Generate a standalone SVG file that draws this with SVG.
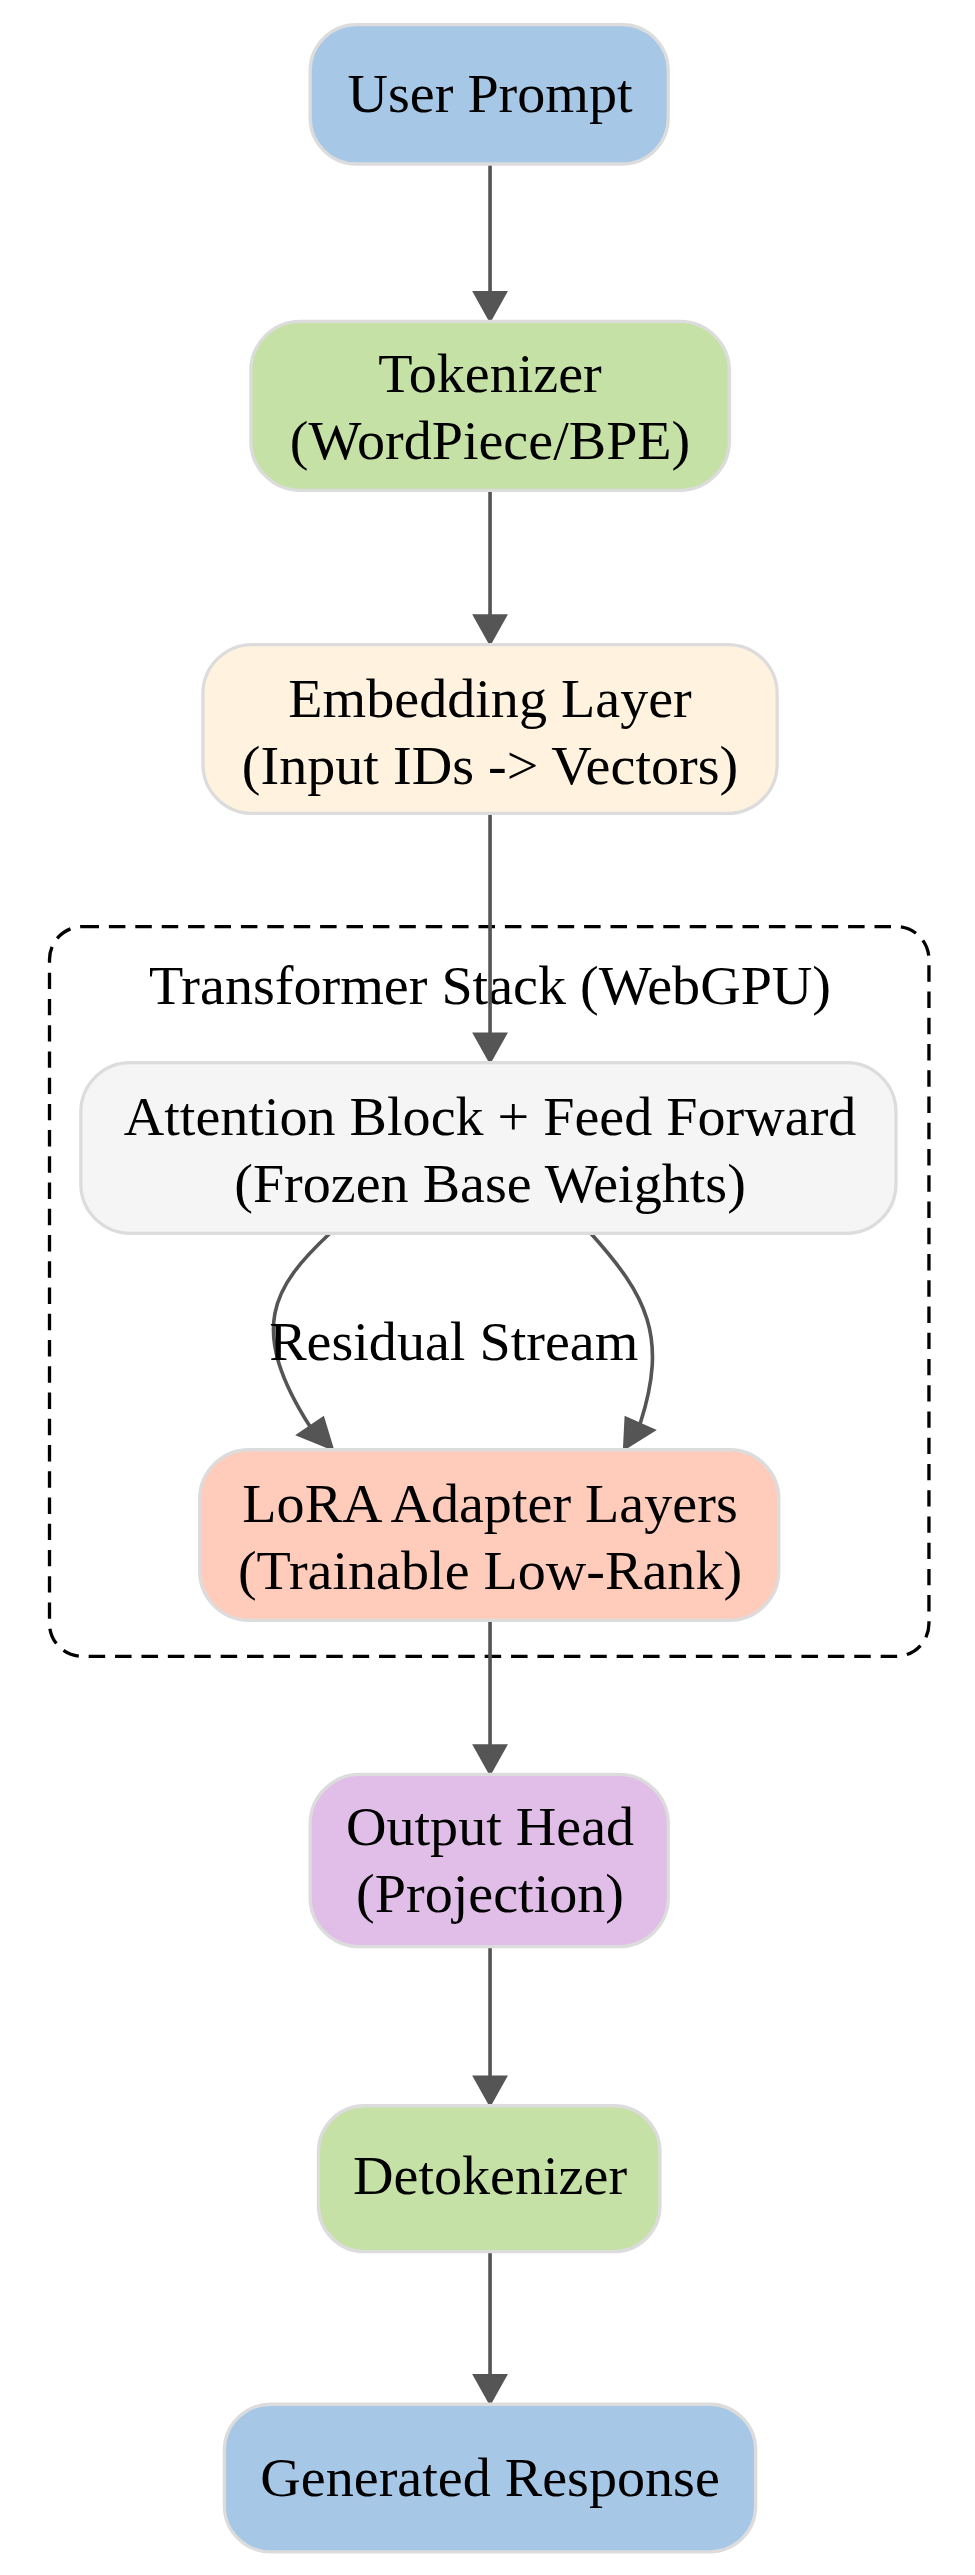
<svg xmlns="http://www.w3.org/2000/svg" width="975" height="2575" viewBox="0 0 975 2575">
<style>
.n{stroke:#dcdcdc;stroke-width:2}
.t{font-family:"Liberation Serif","Times New Roman",serif;font-size:34px;text-anchor:middle;fill:#000}
.e{stroke:#555;stroke-width:2.2;fill:none}
.h{fill:#555;stroke:#555;stroke-width:1}
</style>
<rect width="975" height="2575" fill="#fff"/>
<g transform="scale(1.65,1.64)">
<g id="cluster">
<rect x="30" y="565" width="533" height="445" rx="20" fill="none" stroke="#000" stroke-width="2" stroke-dasharray="10,6"/>
<text class="t" x="297" y="612" font-size="33">Transformer Stack (WebGPU)</text>
</g>
<g id="connectors">
<path class="e" d="M297,100V178"/><polygon class="h" points="287,178 307,178 297,196"/>
<path class="e" d="M297,299V375"/><polygon class="h" points="287,375 307,375 297,393"/>
<path class="e" d="M297,496V630"/><polygon class="h" points="287,630 307,630 297,648"/>
<path class="e" d="M200,752C165,785 150,810 188,870"/><polygon class="h" points="180,875 196,864 202,884"/>
<path class="e" d="M358,752C392,790 405,815 388,868"/><polygon class="h" points="379,864 397,872 378,884"/>
<text class="t" x="275" y="829" font-size="31">Residual Stream</text>
<path class="e" d="M297,988V1064"/><polygon class="h" points="287,1064 307,1064 297,1082"/>
<path class="e" d="M297,1187V1266"/><polygon class="h" points="287,1266 307,1266 297,1284"/>
<path class="e" d="M297,1373V1448"/><polygon class="h" points="287,1448 307,1448 297,1466"/>
</g>
<g id="user_prompt"><rect class="n" x="188" y="15" width="217" height="85" rx="28" fill="#a7c7e6"/><text class="t" x="297" y="68">User Prompt</text></g>
<g id="tokenizer"><rect class="n" x="152" y="196" width="290" height="103" rx="30" fill="#c5e1a5"/><text class="t" x="297" y="239">Tokenizer</text><text class="t" x="297" y="280">(WordPiece/BPE)</text></g>
<g id="embedding"><rect class="n" x="123" y="393" width="348" height="103" rx="30" fill="#fff3e0"/><text class="t" x="297" y="437">Embedding Layer</text><text class="t" x="297" y="478">(Input IDs -&gt; Vectors)</text></g>
<g id="attention"><rect class="n" x="49" y="648" width="494" height="104" rx="30" fill="#f5f5f5"/><text class="t" x="297" y="692">Attention Block + Feed Forward</text><text class="t" x="297" y="733">(Frozen Base Weights)</text></g>
<g id="lora"><rect class="n" x="121" y="884" width="351" height="104" rx="30" fill="#ffccbc"/><text class="t" x="297" y="928">LoRA Adapter Layers</text><text class="t" x="297" y="969">(Trainable Low-Rank)</text></g>
<g id="output_head"><rect class="n" x="188" y="1082" width="217" height="105" rx="30" fill="#e1bee7"/><text class="t" x="297" y="1125">Output Head</text><text class="t" x="297" y="1166">(Projection)</text></g>
<g id="detokenizer"><rect class="n" x="193" y="1284" width="207" height="89" rx="28" fill="#c5e1a5"/><text class="t" x="297" y="1338">Detokenizer</text></g>
<g id="generated_response"><rect class="n" x="136" y="1466" width="322" height="90" rx="28" fill="#a7c7e6"/><text class="t" x="297" y="1522">Generated Response</text></g>
</g>
</svg>
